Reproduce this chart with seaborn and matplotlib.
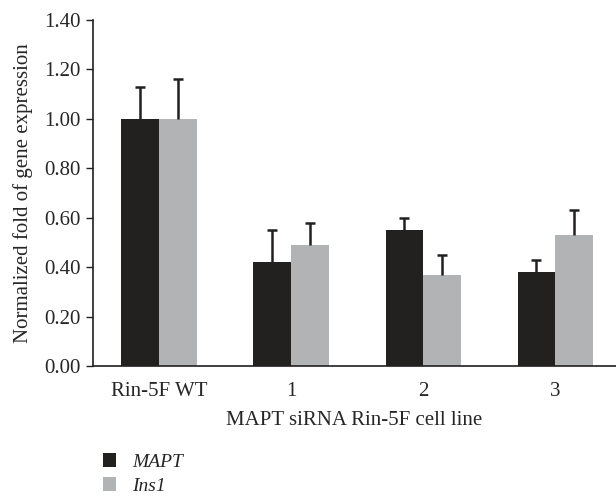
import numpy as np
import pandas as pd
import seaborn as sns
import matplotlib.pyplot as plt

# data
groups = ['Rin-5F WT', '1', '2', '3']
genes = ['MAPT', 'Ins1']
mapt = [1.00, 0.42, 0.55, 0.38]
mapt_err = [0.13, 0.13, 0.05, 0.05]
ins1 = [1.00, 0.49, 0.37, 0.53]
ins1_err = [0.16, 0.09, 0.08, 0.10]
yticks = [0.0, 0.2, 0.4, 0.6, 0.8, 1.0, 1.2, 1.4]

df = pd.DataFrame({
    'group': groups * 2,
    'gene': ['MAPT'] * 4 + ['Ins1'] * 4,
    'value': mapt + ins1,
})

sns.set_style('white')
plt.rcParams['font.family'] = ['Liberation Serif', 'DejaVu Serif']

fig = plt.figure(figsize=(6.16, 4.98), dpi=100)
ax = fig.add_axes([0.151, 0.265, 0.849, 0.695])

sns.barplot(data=df, x='group', y='value', hue='gene', hue_order=genes,
            palette=['#231f20', '#b1b3b6'], width=0.57, errorbar=None,
            linewidth=0, ax=ax, legend=True)

# upper-only error bars on each bar
bars = [p for p in ax.patches if p.get_height() > 0]
errs = mapt_err + ins1_err
for p, e in zip(bars, errs):
    cx = p.get_x() + p.get_width() / 2
    h = p.get_height()
    _, caps, _ = ax.errorbar(cx, h, yerr=[[0], [e]], fmt='none', ecolor='#231f20',
                             elinewidth=1.8, capsize=3.5, capthick=1.8)
    caps[0].set_visible(False)

ax.set_ylim(0, 1.4)
ax.set_xlim(-0.5, 3.46)
ax.set_yticks(yticks)
ax.set_yticklabels([f'{t:.2f}' for t in yticks])
ax.set_xlabel('MAPT siRNA Rin-5F cell line', fontsize=15, labelpad=7)
ax.set_ylabel('Normalized fold of gene expression', fontsize=15, labelpad=8)
ax.tick_params(axis='y', which='both', left=True, length=5, width=1,
               labelsize=15, color='#231f20', pad=4)
ax.tick_params(axis='x', bottom=False, labelsize=15, pad=8)
sns.despine(ax=ax)
for s in ['left', 'bottom']:
    ax.spines[s].set_color('#231f20')
    ax.spines[s].set_linewidth(1.2)

handles, labels = ax.get_legend_handles_labels()
ax.legend_.remove()
fig.legend(handles, labels, loc='upper left', bbox_to_anchor=(0.151, 0.11),
           frameon=False, prop={'style': 'italic', 'size': 14},
           handlelength=0.7, handleheight=0.7, handletextpad=0.8,
           labelspacing=0.35, borderpad=0)

fig.savefig('out.png', dpi=100)
